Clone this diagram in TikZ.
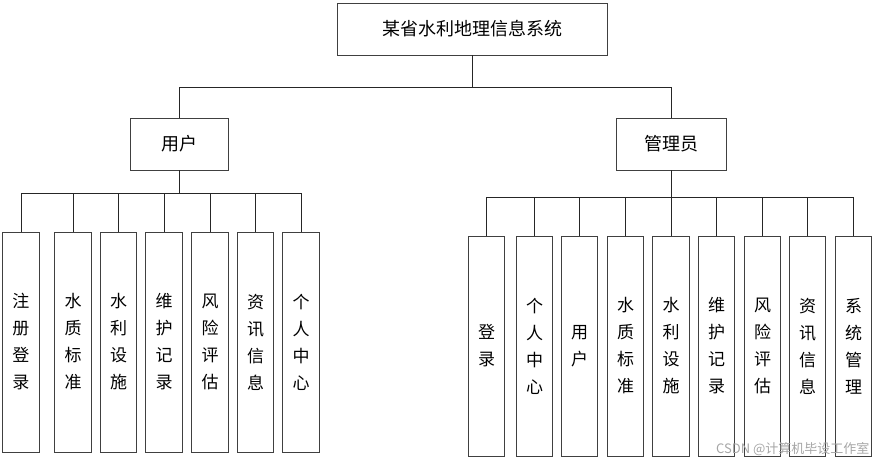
\documentclass[tikz,border=0pt]{standalone}
\usepackage{fontspec}
\setmainfont{Noto Sans CJK SC}
\usepackage{tikz}

\begin{document}
\begin{tikzpicture}[
    x=1pt, y=-1pt,
    box/.style={draw=black!75, line width=0.9pt, inner sep=0pt, font=\fontsize{18}{22}\selectfont},
    leaf/.style={draw=black!75, line width=0.9pt, inner sep=0pt, align=center,
      minimum width=36.5pt, minimum height=220pt, font=\fontsize{17}{27}\selectfont},
    link/.style={draw=black!85, line width=0.8pt},
]
\useasboundingbox (0,0) rectangle (875,462);

% Top levels
\node[box, minimum width=270pt, minimum height=52pt] (sys) at (472, 29) {某省水利地理信息系统};
\node[box, minimum width=98pt, minimum height=52pt] (user) at (179, 144) {用户};
\node[box, minimum width=110pt, minimum height=52pt] (admin) at (671.5, 144) {管理员};

\draw[link] (sys.south) -- ++(0,32) -| (user.north);
\draw[link] (sys.south) -- ++(0,32) -| (admin.north);

% User modules
\foreach \name/\txt/\xpos in {
  ua/{注\\册\\登\\录}/21,
  ub/{水\\质\\标\\准}/73,
  uc/{水\\利\\设\\施}/118.5,
  ud/{维\\护\\记\\录}/164,
  ue/{风\\险\\评\\估}/210,
  uf/{资\\讯\\信\\息}/255.5,
  ug/{个\\人\\中\\心}/301
}{
  \node[leaf] (\name) at (\xpos, 342) {\txt};
  \draw[link] (user.south) -- ++(0,23) -| (\name.north);
}

% Admin modules
\foreach \name/\txt/\xpos in {
  aa/{登\\录}/486.5,
  ab/{个\\人\\中\\心}/534.5,
  ac/{用\\户}/579.5,
  ad/{水\\质\\标\\准}/625.5,
  ae/{水\\利\\设\\施}/671,
  af/{维\\护\\记\\录}/716.5,
  ag/{风\\险\\评\\估}/762.5,
  ah/{资\\讯\\信\\息}/807.5,
  ai/{系\\统\\管\\理}/853.5
}{
  \node[leaf] (\name) at (\xpos, 346) {\txt};
  \draw[link] (admin.south) -- ++(0,27) -| (\name.north);
}

% Watermark
\node[text=black!35, font=\fontsize{13}{15}\selectfont, anchor=east] (mark) at (873, 449) {CSDN @计算机毕设工作室};

\end{tikzpicture}
\end{document}
